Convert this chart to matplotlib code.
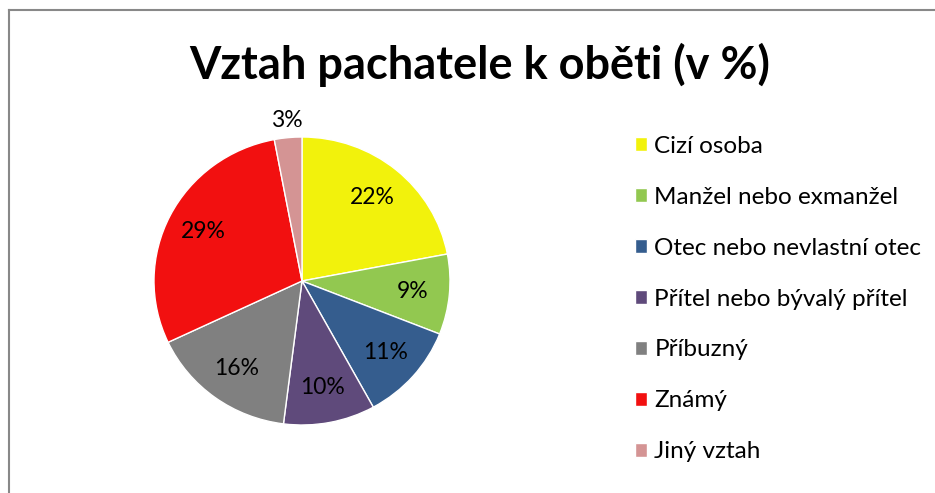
import matplotlib.pyplot as plt
import numpy as np
from matplotlib.lines import Line2D

labels = ['Cizí osoba', 'Manžel nebo exmanžel', 'Otec nebo nevlastní otec',
          'Přítel nebo bývalý přítel', 'Příbuzný', 'Známý', 'Jiný vztah']
values = [22, 9, 11, 10, 16, 29, 3]
colors = ['#f2f20c', '#92c850', '#355d8e', '#5f4a7b', '#808080', '#f21010', '#d49494']

plt.rcParams['font.family'] = ['Lato', 'DejaVu Sans']

W, H = 935, 493
fig = plt.figure(figsize=(W / 100, H / 100), dpi=100)

# pie axes, centre around x=302, y=281 px
rx, ry = 148, 144
ax = fig.add_axes([(302 - rx) / W, (H - 281 - ry) / H, 2 * rx / W, 2 * ry / H])
wedges, texts, autotexts = ax.pie(values, colors=colors, startangle=90, counterclock=False,
                                  autopct='%1.0f%%', pctdistance=0.75, radius=1,
                                  wedgeprops=dict(edgecolor='white', linewidth=1),
                                  textprops=dict(fontsize=16.5, color='black'))
ax.set_xlim(-1, 1)
ax.set_ylim(-1, 1)
ax.set_aspect('auto')

# the small slice gets its label outside
w = wedges[-1]
ang = np.deg2rad((w.theta1 + w.theta2) / 2)
autotexts[-1].set_position((1.12 * np.cos(ang), 1.12 * np.sin(ang)))

fig.text(480 / W, 1 - 65 / H, 'Vztah pachatele k oběti (v %)', ha='center', va='center',
         fontsize=32.5, fontweight='bold')

leg = fig.legend(wedges, labels, loc='upper left', bbox_to_anchor=(613 / W, 1 - 114 / H),
                 frameon=False, fontsize=17.5, handlelength=0.5, handleheight=0.5,
                 handletextpad=0.3, labelspacing=1.23)

# chart border (top and left only visible)
fig.add_artist(Line2D([9 / W, 1], [1 - 10 / H, 1 - 10 / H], transform=fig.transFigure,
                      color='#888888', lw=1.5))
fig.add_artist(Line2D([9 / W, 9 / W], [0, 1 - 10 / H], transform=fig.transFigure,
                      color='#888888', lw=1.5))

fig.savefig('out.png', dpi=100)
